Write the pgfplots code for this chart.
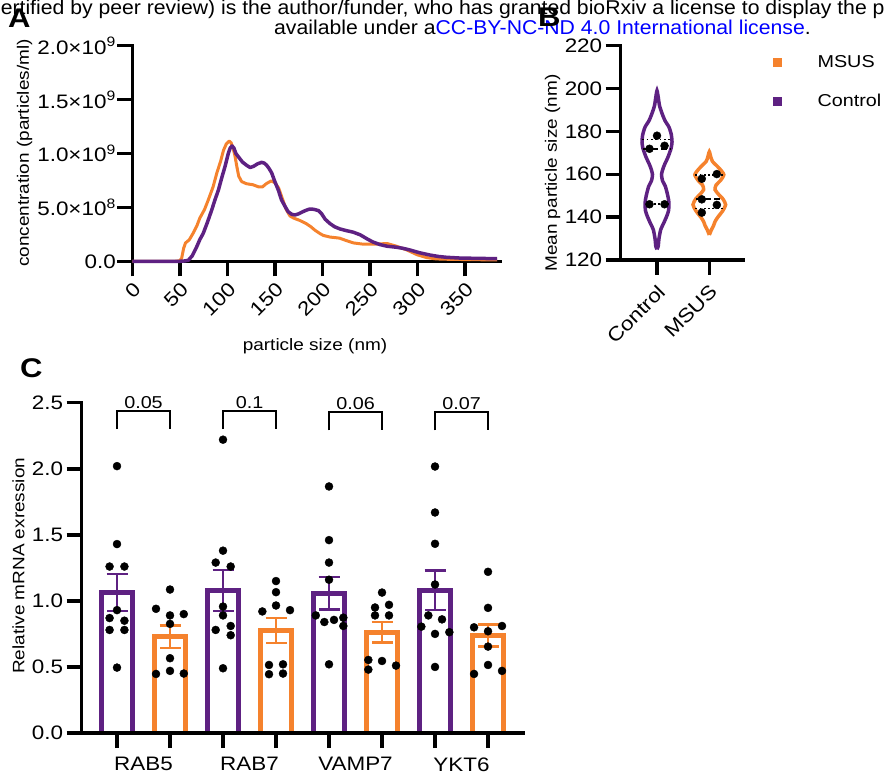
\documentclass[border=0pt]{standalone}
\usepackage{fontspec}
\setmainfont{Liberation Sans}
\newfontfamily\figfont{Liberation Sans}[FakeStretch=1.15]
\newfontfamily\hdrfont{Liberation Sans}[FakeStretch=1.06]
\usepackage{pgfplots}
\pgfplotsset{compat=1.18}
\definecolor{cpurple}{RGB}{94,33,130}
\definecolor{corange}{RGB}{245,130,45}
\definecolor{linkblue}{RGB}{0,0,255}
\newcommand{\myfnt}{\figfont\fontsize{16.5}{19}\selectfont}
\newcommand{\mytick}{\figfont\fontsize{17.2}{19}\selectfont}
\pgfplotsset{myaxis/.style={
  scale only axis, clip=false,
  axis x line*=bottom, axis y line*=left,
  axis line style={line width=3.5pt,-,line cap=rect},
  tick align=outside,
  major tick length=15pt,
  tick style={line width=3.5pt,black},
  minor tick num=0,
  tick label style={font=\figfont\fontsize{19.5}{22}\selectfont},
  label style={font=\myfnt},
  /pgf/number format/assume math mode=true,
}}
\begin{document}
\begin{tikzpicture}
\path[use as bounding box] (0pt,0pt) rectangle (885pt,776pt);
% header lines
\node[anchor=base west, inner sep=0pt, font=\hdrfont\fontsize{20}{22}\selectfont] at (-10pt,761.5pt)
 {certified by peer review) is the author/funder, who has granted bioRxiv a license to display the preprint in perpetuity. It is made};
\node[anchor=base west, inner sep=0pt, font=\hdrfont\fontsize{20}{22}\selectfont] at (274pt,741pt)
 {available under a\textcolor{linkblue}{CC-BY-NC-ND 4.0 International license}.};
% panel letters
\node[anchor=base west, inner sep=0pt, font=\figfont\bfseries\fontsize{27}{30}\selectfont] at (8pt,748pt) {A};
\node[anchor=base west, inner sep=0pt, font=\figfont\bfseries\fontsize{27}{30}\selectfont] at (538pt,749pt) {B};
\node[anchor=base west, inner sep=0pt, font=\figfont\bfseries\fontsize{27}{30}\selectfont] at (20pt,398pt) {C};

% ---------------- Panel A ----------------
\begin{axis}[myaxis,
  at={(132.3pt,514.7pt)}, anchor=south west,
  width=367.7pt, height=215.6pt,
  xmin=0, xmax=387, ymin=0, ymax=2,
  xtick={0,50,...,350},
  ytick={0,0.5,1,1.5,2},
  yticklabels={0.0, 5.0×10\textsuperscript{8}, 1.0×10\textsuperscript{9}, 1.5×10\textsuperscript{9}, 2.0×10\textsuperscript{9}},
  yticklabel style={xshift=2pt},
  xticklabel style={rotate=45, anchor=north east},
  xlabel={particle size (nm)},
  ylabel={concentration (particles/ml)},
  xlabel style={at={(axis description cs:0.497,-0.393)}, anchor=center},
  ylabel style={at={(axis description cs:-0.293,0.502)}, anchor=center},
]
\addplot[corange, line width=3pt, line join=round] coordinates {
(0,0) (45,0) (50,0.005) (52,0.03) (54,0.12) (56,0.17) (60,0.2) (64,0.26) (68,0.33) (71,0.40)
(76,0.48) (80,0.57) (85,0.69) (89,0.82) (93,0.93) (96,1.03) (99,1.09) (102,1.115) (104,1.10)
(106,1.05) (108,0.98) (110,0.88) (112,0.79) (115,0.74) (120,0.72) (127,0.71) (133,0.69) (137,0.69)
(141,0.72) (146,0.745) (150,0.73) (154,0.68) (158,0.58) (162,0.48) (166,0.42) (170,0.40) (176,0.38)
(183,0.35) (188,0.32) (192,0.29) (197,0.26) (201,0.24) (208,0.225) (218,0.215) (226,0.19) (233,0.17)
(242,0.16) (250,0.16) (258,0.16) (268,0.165) (278,0.14) (289,0.105) (300,0.06) (310,0.034)
(320,0.022) (331,0.019) (350,0.016) (370,0.014) (384,0.012)};
\addplot[cpurple, line width=3.5pt, line join=round] coordinates {
(0,0) (50,0) (55,0.003) (59,0.01) (63,0.05) (67.8,0.135) (71,0.2) (74.7,0.26) (79,0.36) (83.6,0.476)
(87,0.57) (90.6,0.66) (94,0.77) (97.6,0.88) (101,1.0) (103,1.05) (105,1.07) (107,1.05) (109,1.0)
(111.6,0.97) (116,0.92) (120.4,0.89) (124,0.87) (127.4,0.88) (132,0.905) (136.2,0.918) (139,0.91)
(141.5,0.89) (144,0.86) (146.7,0.82) (150,0.74) (153.7,0.66) (157,0.57) (160.7,0.51) (164,0.46)
(167.8,0.436) (171.3,0.43) (175,0.44) (178.3,0.455) (182,0.47) (186,0.483) (188.8,0.485) (192,0.48)
(196,0.47) (199.3,0.44) (203,0.39) (208,0.35) (213,0.32) (218.6,0.30) (225,0.285) (232.6,0.27)
(240,0.245) (246.7,0.21) (253,0.18) (260.7,0.155) (268,0.14) (278.3,0.13) (285,0.12) (292.2,0.105)
(302,0.08) (313.3,0.058) (322,0.045) (330.8,0.037) (345,0.03) (365,0.027) (384,0.024)};
\end{axis}

% ---------------- Panel B ----------------
\begin{axis}[myaxis,
  at={(620.7pt,516pt)}, anchor=south west,
  width=122.3pt, height=214.3pt,
  xmin=0.306, xmax=2.644, ymin=120, ymax=220,
  xtick={1,2}, xticklabels={Control,MSUS},
  ytick={120,140,...,220},
  xticklabel style={rotate=45, anchor=north east, xshift=-3pt, yshift=-2pt},
  ylabel={Mean particle size (nm)},
  ylabel style={at={(axis description cs:-0.556,0.405)}, anchor=center},
  legend style={draw=none, fill=none, at={(1.245,0.965)}, anchor=north west,
    inner sep=0pt, row sep=21pt, column sep=34pt, font=\figfont\fontsize{17.2}{20}\selectfont, nodes={inner sep=2pt}},
  legend image code/.code={\fill[#1] (0pt,-4pt) rectangle (8pt,4pt);},
  legend cell align=left,
]
\addlegendimage{corange, fill=corange}
\addlegendimage{cpurple, fill=cpurple}
\legend{MSUS,Control}
% violins
\addplot[cpurple, line width=3.5pt, smooth, tension=0.4, forget plot] coordinates {
(1,125) (1.023,126.4) (1.038,130) (1.071,134.2) (1.124,137) (1.185,140.4) (1.220,143) (1.229,146.6)
(1.206,150) (1.159,154.4) (1.105,157) (1.086,160) (1.120,163) (1.153,165) (1.210,168) (1.268,172)
(1.287,175) (1.273,178.5) (1.229,182) (1.153,185) (1.096,188.4) (1.048,192) (1.023,196) (1,199)
(0.977,196) (0.952,192) (0.904,188.4) (0.847,185) (0.771,182) (0.727,178.5) (0.713,175) (0.732,172)
(0.790,168) (0.847,165) (0.880,163) (0.914,160) (0.895,157) (0.841,154.4) (0.794,150) (0.771,146.6)
(0.780,143) (0.815,140.4) (0.876,137) (0.929,134.2) (0.962,130) (0.977,126.4) (1,125)};
\addplot[corange, line width=3.5pt, smooth, tension=0.4, forget plot] coordinates {
(2,131.7) (2.038,134) (2.08,136) (2.111,138) (2.163,140) (2.258,143) (2.312,145.8) (2.26,148.5)
(2.182,150.5) (2.109,152.8) (2.13,155) (2.21,157) (2.277,159.8) (2.2,162.5) (2.12,164.5) (2.06,166)
(2.029,168) (2,170.5)
(1.971,168) (1.94,166) (1.88,164.5) (1.8,162.5) (1.723,159.8) (1.79,157) (1.87,155) (1.891,152.8)
(1.818,150.5) (1.74,148.5) (1.688,145.8) (1.742,143) (1.837,140) (1.889,138) (1.92,136) (1.962,134)
(2,131.7)};
% quartile lines
\addplot[black, line width=1.8pt, dash pattern=on 6pt off 3pt, forget plot] coordinates {(0.74,171.9) (1.26,171.9)};
\addplot[black, line width=1.8pt, dash pattern=on 1.8pt off 2.5pt, forget plot] coordinates {(0.72,176.2) (1.28,176.2)};
\addplot[black, line width=1.8pt, dash pattern=on 1.8pt off 2.5pt, forget plot] coordinates {(0.78,146.1) (1.22,146.1)};
\addplot[black, line width=1.8pt, dash pattern=on 6pt off 3pt, forget plot] coordinates {(1.75,148.3) (2.25,148.3)};
\addplot[black, line width=1.8pt, dash pattern=on 1.8pt off 2.5pt, forget plot] coordinates {(1.73,159.7) (2.27,159.7)};
\addplot[black, line width=1.8pt, dash pattern=on 1.8pt off 2.5pt, forget plot] coordinates {(1.73,144.0) (2.27,144.0)};
% dots
\addplot[only marks, mark=*, mark size=4pt, black, forget plot] coordinates {
(1,178) (0.856,171.9) (1.144,173.3) (0.856,146) (1.144,146)
(1.856,157.9) (2.144,160.1) (1.856,148.3) (2.144,145.7) (1.856,142.1)};
\end{axis}

% ---------------- Panel C ----------------
\begin{axis}[myaxis,
  at={(81.7pt,43pt)}, anchor=south west,
  width=441.3pt, height=330.3pt,
  axis on top,
  xmin=-0.666, xmax=7.66, ymin=0, ymax=2.5,
  xtick={0,...,7}, xticklabels={},
  extra x ticks={0.5,2.5,4.5,6.5},
  extra x tick labels={RAB5,RAB7,VAMP7,YKT6},
  extra x tick style={tick style={draw=none}, xticklabel style={yshift=-6pt}},
  ytick={0,0.5,...,2.5},
  yticklabel style={/pgf/number format/.cd, fixed, fixed zerofill, precision=1},
  ylabel={Relative mRNA exression},
  ylabel style={at={(axis description cs:-0.143,0.506)}, anchor=center},
]
\addplot[ybar, bar width=0.585, bar shift=0pt, draw=cpurple, fill=white, line width=4.5pt,
  error bars/.cd, y dir=both, y explicit,
  error bar style={line width=2.5pt, cpurple},
  error mark options={rotate=90, mark size=10.5pt, line width=2.5pt, cpurple}]
  coordinates {(0,1.065) +- (0,0.14) (2,1.08) +- (0,0.155) (4,1.057) +- (0,0.123) (6,1.08) +- (0,0.15)};
\addplot[ybar, bar width=0.585, bar shift=0pt, draw=corange, fill=white, line width=4.5pt,
  error bars/.cd, y dir=both, y explicit,
  error bar style={line width=2.5pt, corange},
  error mark options={rotate=90, mark size=10.5pt, line width=2.5pt, corange}]
  coordinates {(1,0.73) +- (0,0.085) (3,0.775) +- (0,0.095) (5,0.762) +- (0,0.078) (7,0.737) +- (0,0.083)};
% dots
\addplot[only marks, mark=*, mark size=4pt, black] coordinates {
(0,2.02) (0,1.43) (-0.14,1.26) (0.14,1.26) (0,0.93) (-0.14,0.87) (0.14,0.85) (-0.14,0.78) (0.14,0.78) (0,0.495)
(1,1.086) (0.736,0.94) (1,0.89) (1.26,0.90) (1,0.826) (1,0.566) (0.736,0.447) (1,0.47) (1.26,0.45)
(2,2.22) (2,1.38) (1.862,1.29) (2.145,1.26) (2,0.957) (2,0.89) (1.862,0.78) (2.145,0.81) (2.145,0.74) (2,0.49)
(3,1.15) (3,1.066) (3,0.965) (2.742,0.92) (3.264,0.93) (2.868,0.515) (3.132,0.52) (2.868,0.445) (3.132,0.45)
(4,1.866) (4,1.46) (4,1.29) (4,1.16) (3.75,0.89) (3.912,0.84) (4.094,0.856) (4.27,0.873) (4.27,0.81) (4,0.52)
(5,1.063) (4.868,0.95) (5.132,0.97) (4.868,0.89) (5.132,0.89) (4.742,0.553) (5,0.545) (4.742,0.48) (5.264,0.51)
(6,2.017) (6,1.669) (6,1.432) (6,1.124) (5.874,0.89) (6.132,0.86) (5.742,0.805) (6,0.75) (6.27,0.763) (6,0.50)
(7,1.22) (7,0.947) (6.736,0.80) (7.264,0.81) (7,0.77) (7,0.654) (7,0.515) (6.736,0.447) (7.264,0.47)};
% significance brackets
\addplot[black, line width=2pt, mark=none] coordinates {(0,2.30) (0,2.44) (1,2.44) (1,2.30)};
\addplot[black, line width=2pt, mark=none] coordinates {(2,2.30) (2,2.44) (3,2.44) (3,2.30)};
\addplot[black, line width=2pt, mark=none] coordinates {(4,2.29) (4,2.43) (5,2.43) (5,2.29)};
\addplot[black, line width=2pt, mark=none] coordinates {(6,2.29) (6,2.43) (7,2.43) (7,2.29)};
\node[anchor=south, inner sep=2pt, font=\mytick] at (axis cs:0.5,2.44) {0.05};
\node[anchor=south, inner sep=2pt, font=\mytick] at (axis cs:2.5,2.44) {0.1};
\node[anchor=south, inner sep=2pt, font=\mytick] at (axis cs:4.5,2.43) {0.06};
\node[anchor=south, inner sep=2pt, font=\mytick] at (axis cs:6.5,2.43) {0.07};
\end{axis}
\end{tikzpicture}
\end{document}
